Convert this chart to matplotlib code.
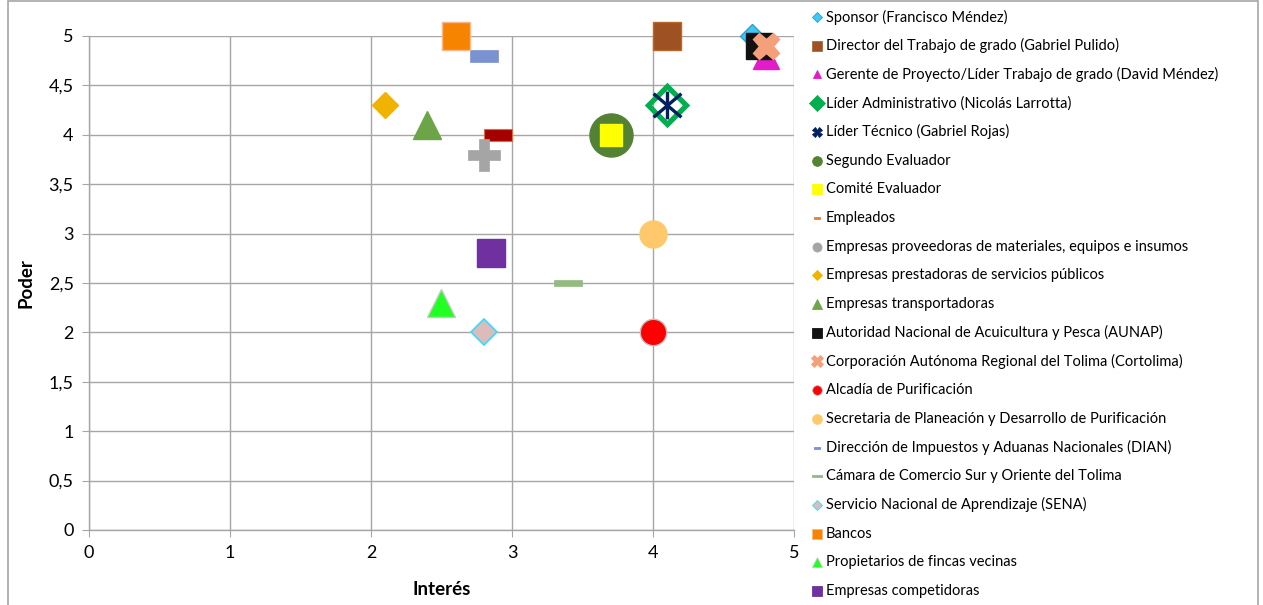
import matplotlib
matplotlib.use("Agg")
import matplotlib.pyplot as plt
import numpy as np
from matplotlib.path import Path
from matplotlib.lines import Line2D
from matplotlib.patches import Rectangle
from matplotlib.ticker import FuncFormatter, MultipleLocator

plt.rcParams['font.family'] = ['Lato', 'DejaVu Sans']

# Stakeholders: interest (x) and power (y)
labels = [
    "Sponsor (Francisco Méndez)",
    "Director del Trabajo de grado (Gabriel Pulido)",
    "Gerente de Proyecto/Líder Trabajo de grado (David Méndez)",
    "Líder Administrativo (Nicolás Larrotta)",
    "Líder Técnico (Gabriel Rojas)",
    "Segundo Evaluador",
    "Comité Evaluador",
    "Empleados",
    "Empresas proveedoras de materiales, equipos e insumos",
    "Empresas prestadoras de servicios públicos",
    "Empresas transportadoras",
    "Autoridad Nacional de Acuicultura y Pesca (AUNAP)",
    "Corporación Autónoma Regional del Tolima (Cortolima)",
    "Alcadía de Purificación",
    "Secretaria de Planeación y Desarrollo de Purificación",
    "Dirección de Impuestos y Aduanas Nacionales (DIAN)",
    "Cámara de Comercio Sur y Oriente del Tolima",
    "Servicio Nacional de Aprendizaje (SENA)",
    "Bancos",
    "Propietarios de fincas vecinas",
    "Empresas competidoras",
]
interes = [4.7, 4.1, 4.8, 4.1, 4.1, 3.7, 3.7, 2.9, 2.8, 2.1, 2.4,
           4.75, 4.8, 4.0, 4.0, 2.8, 3.4, 2.8, 2.6, 2.5, 2.85]
poder = [5.0, 5.0, 4.8, 4.3, 4.3, 4.0, 4.0, 4.0, 3.8, 4.3, 4.1,
         4.9, 4.9, 2.0, 3.0, 4.8, 2.5, 2.0, 5.0, 2.3, 2.8]

# custom marker shapes
dash_thick = Path([(-1, -0.4), (1, -0.4), (1, 0.4), (-1, 0.4), (-1, -0.4)],
                  [Path.MOVETO, Path.LINETO, Path.LINETO, Path.LINETO, Path.CLOSEPOLY])
dash_thin = Path([(-1, -0.22), (1, -0.22), (1, 0.22), (-1, 0.22), (-1, -0.22)],
                 [Path.MOVETO, Path.LINETO, Path.LINETO, Path.LINETO, Path.CLOSEPOLY])
star = Path([(-1, -0.85), (1, 0.85), (-1, 0.85), (1, -0.85), (0, -1), (0, 1)],
            [Path.MOVETO, Path.LINETO, Path.MOVETO, Path.LINETO, Path.MOVETO, Path.LINETO])

# (marker, size, face, edge, edge width)
styles = [
    ("D", 12.5, "#3FC8F4", "#2E9BD6", 1.0),
    ("s", 19.5, "#9E5223", "#B8672E", 1.0),
    ("^", 19.0, "#E31BC8", "#E31BC8", 1.0),
    ("D", 19.0, "none", "#00B050", 3.8),
    (star, 20.0, "none", "#002060", 2.4),
    ("o", 31.0, "#548235", "#548235", 1.0),
    ("s", 16.0, "#FFFF00", "#FFFF00", 1.0),
    (dash_thick, 20.0, "#A50000", "#E07020", 0.8),
    ("P", 23.5, "#A5A5A5", "#A5A5A5", 0.5),
    ("D", 13.5, "#F0B400", "#F0B400", 1.0),
    ("^", 19.5, "#6BA547", "#6BA547", 1.0),
    ("s", 18.5, "#111111", "#111111", 1.0),
    ("X", 19.0, "#F4A07A", "#F4A07A", 1.0),
    ("o", 19.0, "#FF0000", "#BFBFBF", 1.0),
    ("o", 19.5, "#FFC96B", "#FFC96B", 1.0),
    (dash_thick, 20.0, "#7B92D1", "#7B92D1", 0.5),
    (dash_thin, 20.0, "#93BB7F", "#93BB7F", 0.5),
    ("D", 13.0, "#DDBBBB", "#33DDFF", 1.2),
    ("s", 19.5, "#F78400", "#F8B790", 1.0),
    ("^", 19.5, "#22FF22", "#C8C8C8", 1.0),
    ("s", 19.5, "#7030A0", "#7030A0", 1.0),
]

# legend keys are drawn smaller: (marker, size, face, edge)
legend_keys = [
    ("D", 5, "#3FC8F4", "#2E9BD6"),
    ("s", 6.5, "#9E5223", "#B8672E"),
    ("^", 6, "#E31BC8", "#E31BC8"),
    ("D", 8, "#00B050", "#00B050"),
    ("X", 7, "#002060", "#002060"),
    ("o", 7, "#548235", "#548235"),
    ("s", 7, "#FFFF00", "#FFFF00"),
    (dash_thick, 4.5, "#ED7D31", "#ED7D31"),
    ("o", 6.5, "#A5A5A5", "#A5A5A5"),
    ("D", 5.5, "#F0B400", "#F0B400"),
    ("^", 7, "#6BA547", "#6BA547"),
    ("s", 7, "#111111", "#111111"),
    ("X", 9, "#F4A07A", "#F4A07A"),
    ("o", 7, "#FF0000", "#BFBFBF"),
    ("o", 7, "#FFC96B", "#FFC96B"),
    (dash_thick, 4.5, "#7B92D1", "#7B92D1"),
    (dash_thin, 7, "#93BB7F", "#93BB7F"),
    ("D", 5.5, "#DDBBBB", "#33DDFF"),
    ("s", 6.5, "#F78400", "#F8B790"),
    ("^", 6.5, "#22FF22", "#C8C8C8"),
    ("s", 7, "#7030A0", "#7030A0"),
]

fig = plt.figure(figsize=(12.63, 6.05), dpi=100)
ax = fig.add_axes([89 / 1263, 1 - 530 / 605, (794 - 89) / 1263, (530 - 36) / 605])

for x, y, (mk, ms, fc, ec, mew) in zip(interes, poder, styles):
    ax.plot([x], [y], linestyle="none", marker=mk, markersize=ms,
            markerfacecolor=fc, markeredgecolor=ec, markeredgewidth=mew,
            clip_on=False, zorder=3)

ax.set_xlim(0, 5)
ax.set_ylim(0, 5)
ax.xaxis.set_major_locator(MultipleLocator(1))
ax.yaxis.set_major_locator(MultipleLocator(0.5))
comma = FuncFormatter(lambda v, pos: f"{v:g}".replace(".", ","))
ax.xaxis.set_major_formatter(comma)
ax.yaxis.set_major_formatter(comma)
ax.grid(True, color="#A6A6A6", linewidth=1.0)
ax.set_axisbelow(True)
for side in ["top", "right"]:
    ax.spines[side].set_visible(False)
for side in ["left", "bottom"]:
    ax.spines[side].set_color("#A6A6A6")
    ax.spines[side].set_linewidth(1.0)
ax.tick_params(direction="out", length=5, color="#A6A6A6", labelsize=13,
               labelcolor="black", pad=6)
ax.set_xlabel("Interés", fontsize=13.5, fontweight="bold", labelpad=14)
ax.set_ylabel("Poder", fontsize=13.5, fontweight="bold", labelpad=10)

# legend drawn row by row on the right
W, H = 1263, 605
for i, (lab, (mk, lms, fc, ec)) in enumerate(zip(labels, legend_keys)):
    yp = 1 - (17 + 28.7 * i) / H
    fig.add_artist(Line2D([817 / W], [yp], transform=fig.transFigure,
                          linestyle="none", marker=mk, markersize=lms,
                          markerfacecolor=fc, markeredgecolor=ec,
                          markeredgewidth=0.6))
    fig.text(826 / W, yp, lab, fontsize=10.5, va="center", ha="left")

fig.add_artist(Rectangle((8 / W, -0.01), (1258 - 8) / W, 1 - 1 / H + 0.01,
                         transform=fig.transFigure, fill=False,
                         edgecolor="#A6A6A6", linewidth=1.2))

fig.savefig("out.png", dpi=100)
